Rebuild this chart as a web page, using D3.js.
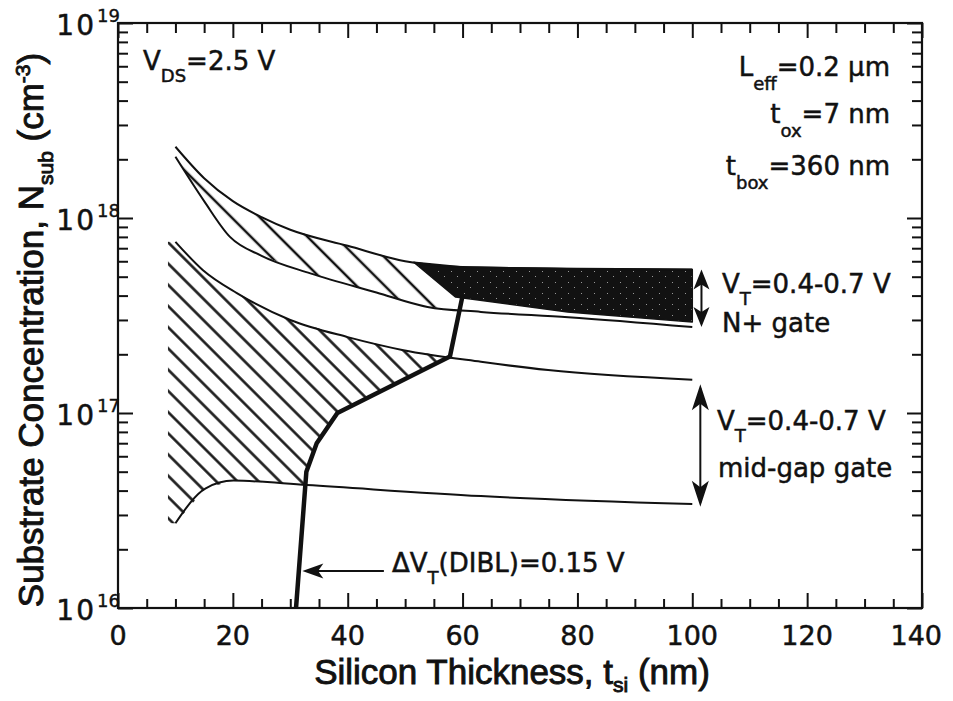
<!DOCTYPE html>
<html>
<head>
<meta charset="utf-8">
<script src="https://cdn.jsdelivr.net/npm/d3@7"></script>
<style>
  body { margin: 0; background: #fff; }
  text { fill: #111; white-space: pre; paint-order: stroke; stroke: #111; }
</style>
</head>
<body>
<div id="chart"></div>
<script>
// Silicon thickness t_si (nm) vs substrate doping N_sub (cm^-3)
const xTickValues = [0, 20, 40, 60, 80, 100, 120, 140];
const yDecades = [16, 17, 18, 19];

// N+ gate window: V_T = 0.7 V (upper) and 0.4 V (lower)
const nPlusHighT = [10, 15, 20, 25, 30, 40, 50, 60, 80, 100];
const nPlusHighN = [2.32e18, 1.6e18, 1.22e18, 1.01e18, 8.7e17, 7.2e17, 6.0e17, 5.6e17, 5.5e17, 5.45e17];
const nPlusLowT = [10, 15, 19.5, 25, 33.5, 45, 53.9, 63.2, 78.4, 100];
const nPlusLowN = [2.06e18, 1.22e18, 8.0e17, 6.4e17, 5.2e17, 4.15e17, 3.5e17, 3.3e17, 3.1e17, 2.76e17];

// mid-gap gate window
const midGapHighT = [10, 14.8, 20.7, 30, 40, 49.7, 63.2, 74.9, 100];
const midGapHighN = [7.55e17, 5.4e17, 4.12e17, 3.0e17, 2.45e17, 2.1e17, 1.83e17, 1.66e17, 1.48e17];
const midGapLowT = [10, 15.2, 20.1, 32.9, 63.2, 100];
const midGapLowN = [2.72e16, 4.1e16, 4.5e16, 4.27e16, 3.75e16, 3.41e16];

// dVT(DIBL) = 0.15 V boundary (thick line)
const diblT = [31, 32.8, 34.6, 38.2, 57.8, 60];
const diblN = [1e16, 5e16, 7e16, 1e17, 1.95e17, 4e17];

// dark (allowed) window for N+ gate: starts on the upper curve, lower edge below
const darkStartT = 51.5;
const darkBottomT = [100, 78.3, 58.8];
const darkBottomN = [2.93e17, 3.3e17, 3.93e17];

const hatchLeftT = 8.7;
const upperHatchCutT = 60;

const width = 953, height = 701;
const x = d3.scaleLinear().domain([0, 140]).range([118, 922]);
const y = d3.scaleLog().domain([1e16, 1e19]).range([608, 23]);

const svg = d3.select('#chart').append('svg')
    .attr('width', width)
    .attr('height', height);
const defs = svg.append('defs');

const zip = (ts, ns) => ts.map((t, i) => [t, ns[i]]);

// value on a curve, linear in t and in log N
function valueAt(ts, ns, t) {
    let i = d3.bisectRight(ts, t) - 1;
    i = Math.max(0, Math.min(ts.length - 2, i));
    const f = (t - ts[i]) / (ts[i + 1] - ts[i]);
    const a = Math.log10(ns[i]), b = Math.log10(ns[i + 1]);
    return Math.pow(10, a + f * (b - a));
}

function hatch(id, gap) {
    const p = defs.append('pattern')
        .attr('id', id)
        .attr('patternUnits', 'userSpaceOnUse')
        .attr('width', gap)
        .attr('height', gap)
        .attr('patternTransform', 'rotate(-45)');
    p.append('line')
        .attr('x1', gap / 2).attr('x2', gap / 2)
        .attr('y1', -1).attr('y2', gap + 1)
        .attr('stroke', '#111')
        .attr('stroke-width', 2.5);
}
hatch('hatch-low', 15);
hatch('hatch-high', 20);

// speckled black fill
const speck = defs.append('pattern')
    .attr('id', 'speck')
    .attr('patternUnits', 'userSpaceOnUse')
    .attr('width', 13).attr('height', 11);
speck.append('rect').attr('width', 13).attr('height', 11).attr('fill', '#121212');
[[2, 1], [9, 7]].forEach(([a, b]) => {
    speck.append('rect').attr('x', a).attr('y', b).attr('width', 1).attr('height', 1)
        .attr('fill', '#999');
});

const line = d3.line().x(d => x(d[0])).y(d => y(d[1])).curve(d3.curveMonotoneX);
const poly = d3.line().x(d => x(d[0])).y(d => y(d[1]));

// upper hatched region (N+ gate, DIBL too large)
const upperHatch = [
    ...zip(nPlusHighT, nPlusHighN).filter(d => d[0] < darkStartT),
    [darkStartT, valueAt(nPlusHighT, nPlusHighN, darkStartT)],
    [upperHatchCutT, valueAt(nPlusLowT, nPlusLowN, upperHatchCutT)],
    ...zip(nPlusLowT, nPlusLowN).filter(d => d[0] < upperHatchCutT).reverse()
];

// where the DIBL line crosses the lower mid-gap curve
let lo = diblT[0], hi = diblT[1];
for (let k = 0; k < 40; k++) {
    const m = (lo + hi) / 2;
    const d = Math.log10(valueAt(diblT, diblN, m)) - Math.log10(valueAt(midGapLowT, midGapLowN, m));
    if (d < 0) lo = m; else hi = m;
}
const crossT = (lo + hi) / 2;
const diblJoinT = diblT[4];

const lowerHatch = [
    [hatchLeftT, midGapHighN[0]],
    ...zip(midGapHighT, midGapHighN).filter(d => d[0] < diblJoinT),
    ...zip(diblT, diblN).filter(d => d[0] > diblT[0] && d[0] <= diblJoinT).reverse(),
    [crossT, valueAt(midGapLowT, midGapLowN, crossT)],
    ...zip(midGapLowT, midGapLowN).filter(d => d[0] < crossT).reverse(),
    [hatchLeftT, midGapLowN[0]]
];

const darkRegion = [
    [darkStartT, valueAt(nPlusHighT, nPlusHighN, darkStartT)],
    ...zip(nPlusHighT, nPlusHighN).filter(d => d[0] > darkStartT),
    ...zip(darkBottomT, darkBottomN)
];

svg.append('path').attr('d', poly(upperHatch) + 'Z').attr('fill', 'url(#hatch-high)');
svg.append('path').attr('d', poly(lowerHatch) + 'Z').attr('fill', 'url(#hatch-low)');
svg.append('path').attr('d', poly(darkRegion) + 'Z').attr('fill', 'url(#speck)')
    .attr('stroke', '#121212').attr('stroke-width', 1.5).attr('stroke-linejoin', 'round');

// curves
[[nPlusHighT, nPlusHighN], [nPlusLowT, nPlusLowN], [midGapHighT, midGapHighN], [midGapLowT, midGapLowN]]
    .forEach(([ts, ns]) => {
        svg.append('path')
            .attr('d', line(zip(ts, ns)))
            .attr('fill', 'none')
            .attr('stroke', '#111')
            .attr('stroke-width', 2);
    });

svg.append('path')
    .attr('d', poly(zip(diblT, diblN)))
    .attr('fill', 'none')
    .attr('stroke', '#111')
    .attr('stroke-width', 4.5)
    .attr('stroke-linejoin', 'round');

// axes, ticks inside the frame
const minorX = d3.range(0, 141, 5).filter(v => v % 20 !== 0);
const minorY = [];
[16, 17, 18].forEach(d => d3.range(2, 10).forEach(m => minorY.push(m * Math.pow(10, d))));
const majorY = yDecades.map(d => Math.pow(10, d));

function ticks(axis, values, size, transform) {
    const g = svg.append('g')
        .attr('transform', transform)
        .call(axis.tickValues(values).tickSizeInner(-size).tickSizeOuter(0).tickFormat(''));
    g.select('.domain').remove();
    g.selectAll('line').attr('stroke', '#111').attr('stroke-width', 2);
}
ticks(d3.axisBottom(x), xTickValues, 15, `translate(0,${y(1e16)})`);
ticks(d3.axisBottom(x), minorX, 9, `translate(0,${y(1e16)})`);
ticks(d3.axisTop(x), xTickValues, 15, `translate(0,${y(1e19)})`);
ticks(d3.axisTop(x), minorX, 10, `translate(0,${y(1e19)})`);
ticks(d3.axisLeft(y), majorY, 15, `translate(${x(0)},0)`);
ticks(d3.axisLeft(y), minorY, 10, `translate(${x(0)},0)`);
ticks(d3.axisRight(y), majorY, 15, `translate(${x(140)},0)`);
ticks(d3.axisRight(y), minorY, 10, `translate(${x(140)},0)`);

svg.append('rect')
    .attr('x', x(0)).attr('y', y(1e19))
    .attr('width', x(140) - x(0)).attr('height', y(1e16) - y(1e19))
    .attr('fill', 'none').attr('stroke', '#111').attr('stroke-width', 2.2);

const labelFont = '"DejaVu Sans", sans-serif';
const titleFont = '"Liberation Sans", Arial, sans-serif';

svg.selectAll('.xlab')
    .data(xTickValues)
    .enter().append('text')
    .attr('class', 'xlab')
    .attr('x', (d, i) => i === xTickValues.length - 1 ? x(d) + 20 : x(d))
    .attr('y', y(1e16) + 37)
    .attr('text-anchor', (d, i) => i === xTickValues.length - 1 ? 'end' : 'middle')
    .attr('font-family', labelFont)
    .attr('font-size', 27)
    .attr('stroke-width', 0.5)
    .text(d => d);

yDecades.forEach(d => {
    const v = Math.pow(10, d);
    svg.append('text')
        .attr('x', x(0) - 22).attr('y', y(v) + 12)
        .attr('text-anchor', 'end')
        .attr('font-family', labelFont).attr('font-size', 28)
        .attr('letter-spacing', 2)
        .attr('stroke-width', 0.5)
        .text('10');
    svg.append('text')
        .attr('x', x(0) - 21).attr('y', y(v) - 1)
        .attr('font-family', labelFont).attr('font-size', 18)
        .attr('stroke-width', 0.4)
        .text(d);
});

// text with sub / superscripts
function richText(parent, px, py, parts, o) {
    const t = parent.append('text')
        .attr('x', px).attr('y', py)
        .attr('font-family', o.family)
        .attr('font-size', o.size)
        .attr('stroke-width', o.stroke)
        .attr('text-anchor', o.anchor || 'start');
    let shift = 0;
    parts.forEach(([s, kind]) => {
        const target = kind === 'sub' ? o.sub : kind === 'sup' ? -o.sup : 0;
        t.append('tspan')
            .attr('dy', target - shift)
            .attr('font-size', kind ? o.small : o.size)
            .text(s);
        shift = target;
    });
    return t;
}

const ann = { family: labelFont, size: 26, small: 18, sub: 12, sup: 10, stroke: 0.5 };

richText(svg, 143, 70, [['V'], ['DS', 'sub'], ['=2.5 V']], ann);
richText(svg, 890, 76, [['L'], ['eff', 'sub'], ['=0.2 \u03bcm']], { ...ann, anchor: 'end', sub: 14 });
richText(svg, 890, 123, [['t'], ['ox', 'sub'], ['=7 nm']], { ...ann, anchor: 'end', sub: 14 });
richText(svg, 890, 175, [['t'], ['box', 'sub'], ['=360 nm']], { ...ann, anchor: 'end', sub: 14 });

richText(svg, 722, 293, [['V'], ['T', 'sub'], ['=0.4-0.7 V']], ann);
richText(svg, 722, 332, [['N+ gate']], ann);
richText(svg, 717, 430, [['V'], ['T', 'sub'], ['=0.4-0.7 V']], ann);
richText(svg, 718, 477, [['mid-gap gate']], ann);
richText(svg, 392, 572, [['\u0394V'], ['T', 'sub'], ['(DIBL)=0.15 V']], ann);

// axis titles
const tit = { family: titleFont, size: 35, small: 21, sub: 8, sup: 13, stroke: 0.9 };
richText(svg, 512, 684, [['Silicon Thickness, t'], ['si', 'sub'], [' (nm)']], { ...tit, anchor: 'middle' });
const yt = svg.append('g').attr('transform', 'translate(43,330) rotate(-90)');
richText(yt, 0, 0, [['Substrate Concentration, N'], ['sub', 'sub'], [' (cm'], ['-3', 'sup'], [')']], { ...tit, anchor: 'middle', sub: 10 });

// arrows
function head(tipX, tipY, dx, dy, len, half) {
    // dx,dy: unit vector pointing from shaft toward tip
    const bx = tipX - dx * len, by = tipY - dy * len;
    const nx = -dy, ny = dx;
    const mx = tipX - dx * len * 0.75, my = tipY - dy * len * 0.75;
    svg.append('path')
        .attr('d', `M${tipX},${tipY}L${bx + nx * half},${by + ny * half}L${mx},${my}L${bx - nx * half},${by - ny * half}Z`)
        .attr('fill', '#111');
}
function doubleArrow(t, nTop, nBot, len, half) {
    const px = x(t), y0 = y(nTop), y1 = y(nBot);
    svg.append('line').attr('x1', px).attr('x2', px).attr('y1', y0 + 4).attr('y2', y1 - 4)
        .attr('stroke', '#111').attr('stroke-width', 2);
    head(px, y0, 0, -1, len, half);
    head(px, y1, 0, 1, len, half);
}
doubleArrow(101.6, nPlusHighN[nPlusHighN.length - 1], nPlusLowN[nPlusLowN.length - 1], 20, 8);
doubleArrow(101.4, midGapHighN[midGapHighN.length - 1] * 0.95, midGapLowN[midGapLowN.length - 1] * 0.97, 26, 8.5);

const arrowN = 1.55e16, arrowTipT = 32.1, arrowTailT = 46.3;
svg.append('line')
    .attr('x1', x(arrowTailT)).attr('x2', x(arrowTipT) + 6)
    .attr('y1', y(arrowN)).attr('y2', y(arrowN))
    .attr('stroke', '#111').attr('stroke-width', 2);
head(x(arrowTipT), y(arrowN), -1, 0, 21, 7.5);
</script>
</body>
</html>
